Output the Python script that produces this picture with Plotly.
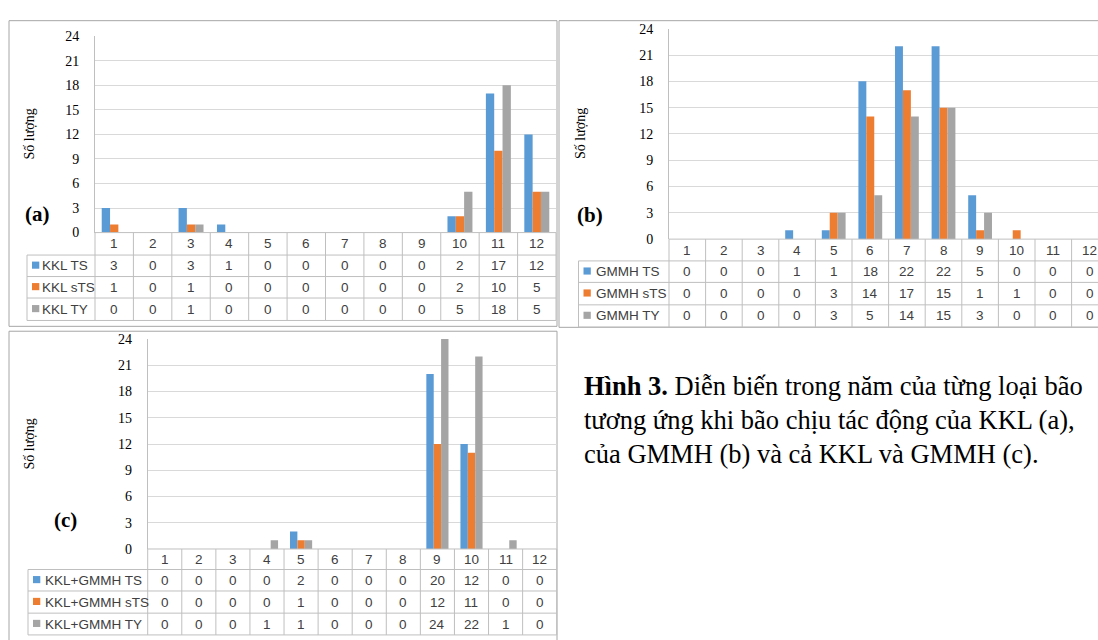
import plotly.graph_objects as go

# ---------------- data ----------------
months = list(range(1, 13))

kkl_names = ["KKL TS", "KKL sTS", "KKL TY"]
kkl_ts = [3, 0, 3, 1, 0, 0, 0, 0, 0, 2, 17, 12]
kkl_sts = [1, 0, 1, 0, 0, 0, 0, 0, 0, 2, 10, 5]
kkl_ty = [0, 0, 1, 0, 0, 0, 0, 0, 0, 5, 18, 5]

gmmh_names = ["GMMH TS", "GMMH sTS", "GMMH TY"]
gmmh_ts = [0, 0, 0, 1, 1, 18, 22, 22, 5, 0, 0, 0]
gmmh_sts = [0, 0, 0, 0, 3, 14, 17, 15, 1, 1, 0, 0]
gmmh_ty = [0, 0, 0, 0, 3, 5, 14, 15, 3, 0, 0, 0]

both_names = ["KKL+GMMH TS", "KKL+GMMH sTS", "KKL+GMMH TY"]
both_ts = [0, 0, 0, 0, 2, 0, 0, 0, 20, 12, 0, 0]
both_sts = [0, 0, 0, 0, 1, 0, 0, 0, 12, 11, 0, 0]
both_ty = [0, 0, 0, 1, 1, 0, 0, 0, 24, 22, 1, 0]

y_ticks = [0, 3, 6, 9, 12, 15, 18, 21, 24]
y_title = "Số lượng"
tags = ["(a)", "(b)", "(c)"]
caption_lines = [
    "<b>Hình 3.</b> Diễn biến trong năm của từng loại bão",
    "tương ứng khi bão chịu tác động của KKL (a),",
    "của GMMH (b) và cả KKL và GMMH (c).",
]

colors = ["#5B9BD5", "#ED7D31", "#A5A5A5"]

# ---------------- layout geometry (pixels) ----------------
W, H = 1098, 640


def X(p):
    return p / W


def Y(p):
    return 1 - p / H


charts = [
    dict(names=kkl_names, values=[kkl_ts, kkl_sts, kkl_ty], ax="", left=95, colw=(556 - 95) / 12,
         y0=231, y24=30, rows=[231, 254, 276, 298, 321], leg=27, txt=13,
         frame=(9, 14, 557, 327), title_x=29, tag_xy=(37, 212)),
    dict(names=gmmh_names, values=[gmmh_ts, gmmh_sts, gmmh_ty], ax="2", left=669, colw=36.6,
         y0=237.7, y24=22.3, rows=[237.7, 260, 282, 305, 327.7], leg=578.5, txt=15,
         frame=(559, 14, 1110, 328), title_x=581, tag_xy=(590, 213)),
    dict(names=both_names, values=[both_ts, both_sts, both_ty], ax="3", left=147.7, colw=(556.7 - 147.7) / 12,
         y0=555, y24=340, rows=[555, 576, 598, 620.7, 643], leg=28, txt=14.5,
         frame=(9, 332, 557, 650), title_x=29.5, tag_xy=(65, 525)),
]

fig = go.Figure()
shapes = []
annotations = []
layout_axes = {}

grid_col = "#D9D9D9"
table_col = "#BFBFBF"
frame_col = "#A6A6A6"
tbl_font = dict(family="Liberation Sans", size=13.5, color="#404040")

for ci, c in enumerate(charts):
    xa = "x" + c["ax"]
    ya = "y" + c["ax"]
    full_right = c["left"] + 12 * c["colw"]
    right = min(full_right, W)
    xr1 = 0.5 + (right - c["left"]) / c["colw"]

    for si in range(3):
        fig.add_trace(go.Bar(
            x=months, y=c["values"][si], name=c["names"][si],
            marker=dict(color=colors[si], line=dict(width=0)),
            xaxis=xa, yaxis=ya, showlegend=False,
        ))

    layout_axes["xaxis" + c["ax"]] = dict(
        domain=[X(c["left"]), X(right)], range=[0.5, xr1], anchor=ya,
        showticklabels=False, showgrid=False, zeroline=False, showline=False,
        fixedrange=True,
    )
    layout_axes["yaxis" + c["ax"]] = dict(
        domain=[Y(c["y0"]), Y(c["y24"])], range=[0, 24], anchor=xa,
        tickvals=y_ticks, showgrid=True, gridcolor=grid_col, gridwidth=1,
        zeroline=False, showline=True, linecolor=table_col, linewidth=1,
        ticks="", ticklabelstandoff=12,
        tickfont=dict(family="Liberation Serif", size=14, color="#000000"),
        fixedrange=True,
    )

    # frame
    fx0, fy0, fx1, fy1 = c["frame"]
    shapes.append(dict(type="rect", xref="paper", yref="paper",
                       x0=X(fx0), x1=X(fx1), y0=Y(fy1), y1=Y(fy0),
                       line=dict(color=frame_col, width=1), fillcolor="rgba(0,0,0,0)", layer="below"))

    rows = c["rows"]
    # vertical column lines of table
    for k in range(13):
        xp = c["left"] + k * c["colw"]
        shapes.append(dict(type="line", xref="paper", yref="paper",
                           x0=X(xp), x1=X(xp), y0=Y(rows[0]), y1=Y(rows[-1]),
                           line=dict(color=table_col, width=1)))
    # legend column left line
    shapes.append(dict(type="line", xref="paper", yref="paper",
                       x0=X(c["leg"]), x1=X(c["leg"]), y0=Y(rows[1]), y1=Y(rows[-1]),
                       line=dict(color=table_col, width=1)))
    # horizontal lines
    shapes.append(dict(type="line", xref="paper", yref="paper",
                       x0=X(c["left"]), x1=X(full_right), y0=Y(rows[0]), y1=Y(rows[0]),
                       line=dict(color=table_col, width=1)))
    for r in rows[1:]:
        shapes.append(dict(type="line", xref="paper", yref="paper",
                           x0=X(c["leg"]), x1=X(full_right), y0=Y(r), y1=Y(r),
                           line=dict(color=table_col, width=1)))

    # header numbers
    hy = (rows[0] + rows[1]) / 2
    for m in months:
        annotations.append(dict(text=str(m), x=m, xref=xa, y=Y(hy), yref="paper",
                                showarrow=False, xanchor="center", yanchor="middle", font=tbl_font))
    # data rows
    for si in range(3):
        ry = (rows[si + 1] + rows[si + 2]) / 2
        for m, v in zip(months, c["values"][si]):
            annotations.append(dict(text=str(v), x=m, xref=xa, y=Y(ry), yref="paper",
                                    showarrow=False, xanchor="center", yanchor="middle", font=tbl_font))
        # legend key
        mx0 = c["leg"] + 5
        shapes.append(dict(type="rect", xref="paper", yref="paper",
                           x0=X(mx0), x1=X(mx0 + 7.3), y0=Y(ry + 3), y1=Y(ry - 4.3),
                           line=dict(width=0), fillcolor=colors[si]))
        annotations.append(dict(text=c["names"][si], x=X(c["leg"] + c["txt"]), xref="paper",
                                y=Y(ry), yref="paper", showarrow=False, xanchor="left",
                                yanchor="middle", font=tbl_font))

    # y title
    annotations.append(dict(text=y_title, x=X(c["title_x"]), y=Y((c["y0"] + c["y24"]) / 2),
                            xref="paper", yref="paper", showarrow=False, textangle=-90,
                            xanchor="center", yanchor="middle",
                            font=dict(family="Liberation Serif", size=14, color="#000000")))
    # tag
    tx, ty = c["tag_xy"]
    annotations.append(dict(text="<b>" + tags[ci] + "</b>", x=X(tx), y=Y(ty), xref="paper", yref="paper",
                            showarrow=False, xanchor="center", yanchor="middle",
                            font=dict(family="Liberation Serif", size=21, color="#000000")))

# caption
for li, line in enumerate(caption_lines):
    annotations.append(dict(text=line, x=X(582), y=Y(388 + 35 * li), xref="paper", yref="paper",
                            showarrow=False, xanchor="left", yanchor="middle",
                            font=dict(family="Liberation Serif", size=26.5, color="#000000")))

fig.update_layout(
    width=W, height=H, margin=dict(l=0, r=0, t=0, b=0),
    paper_bgcolor="white", plot_bgcolor="white",
    barmode="group", bargap=0.35, bargroupgap=0,
    shapes=shapes, annotations=annotations, showlegend=False,
    **layout_axes,
)

fig.write_html("out.html", config={"displayModeBar": False},
               post_script="document.body.style.margin='0';")
